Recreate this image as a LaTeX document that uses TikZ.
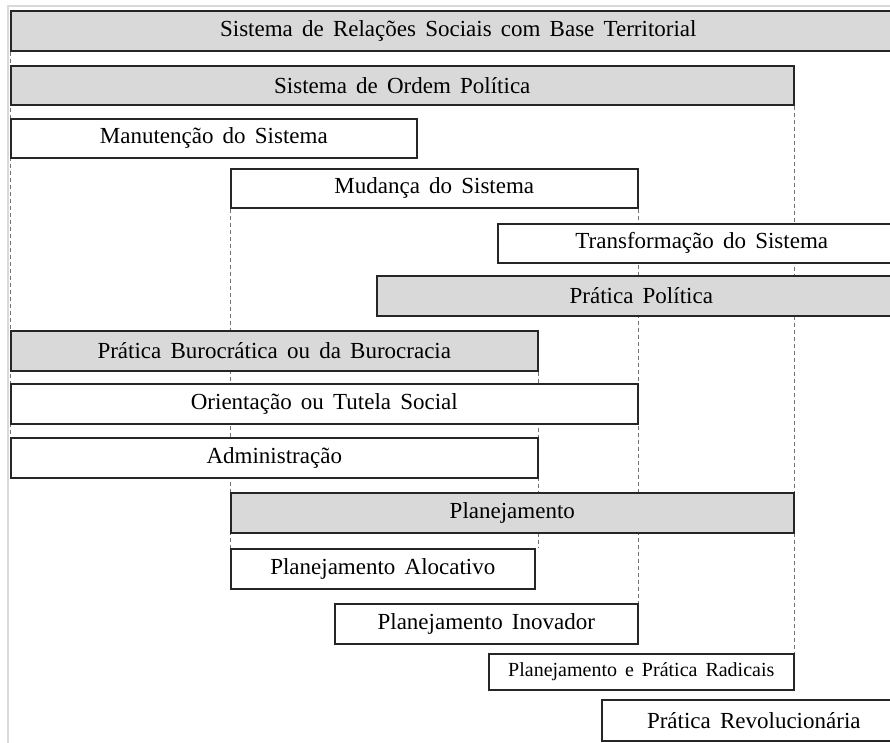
\documentclass[tikz,border=0pt]{standalone}
\usepackage{fontspec}
\setmainfont{Liberation Serif}
\usetikzlibrary{backgrounds}
\newcommand\widewords{\spaceskip=0.4em plus 0.1em\relax}
\begin{document}
\begin{tikzpicture}[x=1pt,y=-1pt,
  box/.style={draw=black!85, line width=1.6pt, fill=white, inner sep=0pt, anchor=north west,
    font=\fontsize{23pt}{23pt}\selectfont, execute at begin node=\widewords},
  graybox/.style={box, fill=black!15},
  guide/.style={draw=black!55, line width=0.8pt, dash pattern=on 4pt off 3pt},
  frame/.style={draw=black!15, line width=2pt}]
\useasboundingbox (0,0) rectangle (890,743);
\clip (0,0) rectangle (890,743);
% boxes
\node[graybox, minimum width=895pt, minimum height=40pt] (relacoes) at (10,10) {Sistema de Relações Sociais com Base Territorial};
\node[graybox, minimum width=783pt, minimum height=39pt] (ordem) at (10,65) {Sistema de Ordem Política};
\node[box, minimum width=406pt, minimum height=39pt] (manut) at (10,118) {Manutenção do Sistema};
\node[box, minimum width=407pt, minimum height=39pt] (mudanca) at (230,168) {Mudança do Sistema};
\node[box, minimum width=408pt, minimum height=39pt] (transf) at (497,223) {Transformação do Sistema};
\node[graybox, minimum width=529pt, minimum height=40pt] (politica) at (376,275) {Prática Política};
\node[graybox, minimum width=527pt, minimum height=40pt] (buro) at (10,330) {Prática Burocrática ou da Burocracia};
\node[box, minimum width=627pt, minimum height=40pt] (orient) at (10,383) {Orientação ou Tutela Social};
\node[box, minimum width=527pt, minimum height=40pt] (admin) at (10,437) {Administração};
\node[graybox, minimum width=563pt, minimum height=40pt] (plan) at (230,492) {Planejamento};
\node[box, minimum width=304pt, minimum height=40pt] (aloc) at (230,548) {Planejamento Alocativo};
\node[box, minimum width=303pt, minimum height=40pt] (inov) at (334,603) {Planejamento Inovador};
\node[box, minimum width=305pt, minimum height=36pt, font=\fontsize{20pt}{20pt}\selectfont] (radic) at (488,653) {Planejamento e Prática Radicais};
\node[box, minimum width=304pt, minimum height=41pt] (revol) at (601,699) {Prática Revolucionária};
\begin{scope}[on background layer]
% frame lines
\coordinate (ftl) at (8,6);
\coordinate (ftr) at (890,6);
\coordinate (fbl) at (8,743);
\draw[frame] (fbl) -- (ftl) -- (ftr);
% dashed guides behind boxes
\draw[guide] (relacoes.south west) -- (admin.north west);
\draw[guide] (mudanca.south west) -- (aloc.north west);
\draw[guide] (buro.south east) -- (buro.south east |- aloc.north);
\draw[guide] (mudanca.south east) -- (inov.north east);
\draw[guide] (ordem.south east) -- (radic.north east);
\end{scope}
\end{tikzpicture}
\end{document}
